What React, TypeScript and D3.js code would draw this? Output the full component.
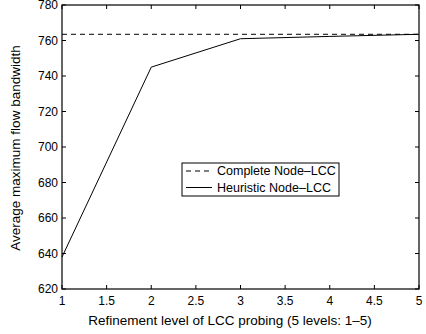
import React from "react";
import * as d3 from "d3";

const levels = [1, 2, 3, 4, 5];
const heuristic = [638, 745, 761, 762.3, 763.5];
const complete = [763.5, 763.5, 763.5, 763.5, 763.5];
const xTicks = [1, 1.5, 2, 2.5, 3, 3.5, 4, 4.5, 5];
const yTicks = [620, 640, 660, 680, 700, 720, 740, 760, 780];
const seriesNames = ["Complete Node\u2013LCC", "Heuristic Node\u2013LCC"];
const xLabel = "Refinement level of LCC probing (5 levels: 1\u20135)";
const yLabel = "Average maximum flow bandwidth";

export default function App() {
  const W = 426, H = 334;
  const L = 62, R = 419, T = 5, B = 289;
  const x = d3.scaleLinear().domain([1, 5]).range([L, R]);
  const y = d3.scaleLinear().domain([620, 780]).range([B, T]);
  const line = d3.line<number>().x((_, i) => x(levels[i])).y((d) => y(d));
  const font = "'Liberation Sans', Arial, Helvetica, sans-serif";
  const tl = 4;
  return (
    <svg width={W} height={H} style={{ position: "absolute", left: 0, top: 0 }} fontFamily={font}>
      <rect x={0} y={0} width={W} height={H} fill="#fff" />
      <path d={line(complete) || ""} fill="none" stroke="#000" strokeWidth={1} strokeDasharray="5,4" />
      <path d={line(heuristic) || ""} fill="none" stroke="#000" strokeWidth={1} />
      <rect x={L} y={T} width={R - L} height={B - T} fill="none" stroke="#000" strokeWidth={1.2} />
      {xTicks.map((t) => (
        <g key={"x" + t}>
          <line x1={x(t)} x2={x(t)} y1={B} y2={B - tl} stroke="#000" />
          <line x1={x(t)} x2={x(t)} y1={T} y2={T + tl} stroke="#000" />
          <text x={x(t)} y={305} fontSize={12} textAnchor="middle">{t}</text>
        </g>
      ))}
      {yTicks.map((t) => (
        <g key={"y" + t}>
          <line x1={L} x2={L + tl} y1={y(t)} y2={y(t)} stroke="#000" />
          <line x1={R} x2={R - tl} y1={y(t)} y2={y(t)} stroke="#000" />
          <text x={58} y={y(t) + 4.3} fontSize={12} textAnchor="end">{t}</text>
        </g>
      ))}
      <text x={230} y={325} fontSize={13.5} textAnchor="middle">{xLabel}</text>
      <text transform={`translate(20,${148}) rotate(-90)`} fontSize={13.5} textAnchor="middle">{yLabel}</text>
      <g>
        <rect x={182} y={163} width={157} height={33} fill="#fff" stroke="#000" strokeWidth={1} />
        <line x1={186} x2={212} y1={171} y2={171} stroke="#000" strokeDasharray="5,4" />
        <line x1={186} x2={212} y1={187.5} y2={187.5} stroke="#000" />
        <text x={217} y={175.3} fontSize={12.5}>{seriesNames[0]}</text>
        <text x={217} y={192} fontSize={12.5}>{seriesNames[1]}</text>
      </g>
    </svg>
  );
}
